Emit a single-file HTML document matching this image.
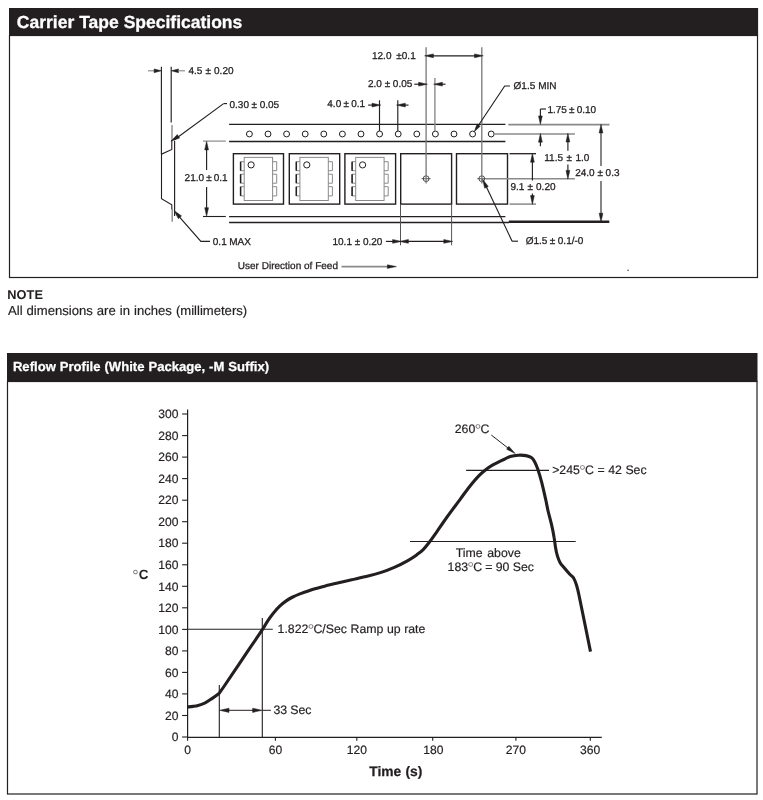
<!DOCTYPE html>
<html lang="en"><head><meta charset="utf-8"><title>Carrier Tape Specifications / Reflow Profile</title>
<style>
html,body{margin:0;padding:0;background:#fff;}
body{width:763px;height:800px;overflow:hidden;}
svg{display:block;will-change:transform;text-rendering:geometricPrecision;font-family:"Liberation Sans",Arial,Helvetica,sans-serif;}
</style></head><body>
<svg width="763" height="800" viewBox="0 0 763 800">
<rect width="763" height="800" fill="#fff"/>
<rect x="9" y="8" width="749.1" height="28" fill="#231f20"/>
<rect x="9.5" y="35.5" width="748" height="242" fill="none" stroke="#231f20" stroke-width="1.2"/>
<text x="16.8" y="28.4" font-size="17.5" font-weight="bold" word-spacing="0.09" fill="#fff" stroke="#fff" stroke-width="0.3">Carrier Tape Specifications</text>
<text x="7.2" y="298.7" font-size="12.8" font-weight="bold" letter-spacing="0.111" fill="#231f20">NOTE</text>
<text x="8" y="315.1" font-size="13.1" word-spacing="0.39" fill="#231f20" stroke="#231f20" stroke-width="0.18">All dimensions are in inches (millimeters)</text>
<rect x="7" y="353" width="750.5" height="29" fill="#231f20"/>
<rect x="7.5" y="381.5" width="749.5" height="412.5" fill="none" stroke="#231f20" stroke-width="1.2"/>
<text x="12.9" y="371" font-size="13.1" font-weight="bold" word-spacing="0.31" fill="#fff" stroke="#fff" stroke-width="0.25">Reflow Profile (White Package, -M Suffix)</text>
<line x1="161.4" y1="66.8" x2="161.4" y2="154.2" stroke="#231f20" stroke-width="1.15"/>
<line x1="171.2" y1="66.8" x2="171.2" y2="122.5" stroke="#231f20" stroke-width="1.15"/>
<line x1="172" y1="125" x2="172" y2="140.5" stroke="#8a8a8a" stroke-width="1.4"/>
<polyline points="171.8,140.2 171.8,149.4 161.5,154.2 161.5,198.8 171.8,204.7 171.8,209.5" fill="none" stroke="#231f20" stroke-width="1.1"/>
<line x1="172.2" y1="208.8" x2="172.2" y2="221.7" stroke="#8a8a8a" stroke-width="1.4"/>
<line x1="174.6" y1="141.1" x2="174.6" y2="216" stroke="#231f20" stroke-width="1.15"/>
<line x1="148" y1="70.8" x2="155" y2="70.8" stroke="#8a8a8a" stroke-width="1.15"/>
<polygon points="161.40,70.80 154.10,72.65 154.10,68.95" fill="#231f20" stroke="#231f20" stroke-width="0.5" stroke-linejoin="miter"/>
<polygon points="171.20,70.80 178.50,68.95 178.50,72.65" fill="#231f20" stroke="#231f20" stroke-width="0.5" stroke-linejoin="miter"/>
<line x1="178" y1="70.8" x2="185" y2="70.8" stroke="#8a8a8a" stroke-width="1.15"/>
<text x="188.5" y="74" font-size="10" word-spacing="0.30" fill="#231f20" stroke="#231f20" stroke-width="0.28">4.5 ± 0.20</text>
<line x1="174" y1="140" x2="223.6" y2="103.6" stroke="#231f20" stroke-width="1.15"/>
<line x1="223.6" y1="103.6" x2="227" y2="103.6" stroke="#231f20" stroke-width="1.15"/>
<polygon points="170.90,141.20 177.30,134.54 179.59,138.06" fill="#231f20" stroke="#231f20" stroke-width="0.5" stroke-linejoin="miter"/>
<text x="229.5" y="107.6" font-size="10" word-spacing="-0.19" fill="#231f20" stroke="#231f20" stroke-width="0.28">0.30 ± 0.05</text>
<polygon points="174.00,210.50 181.52,215.88 178.36,218.65" fill="#231f20" stroke="#231f20" stroke-width="0.5" stroke-linejoin="miter"/>
<polyline points="176.5,213.6 200.9,241.4 210,241.4" fill="none" stroke="#231f20" stroke-width="1.15"/>
<text x="212.8" y="245.4" font-size="10" word-spacing="-0.35" fill="#231f20" stroke="#231f20" stroke-width="0.28">0.1 MAX</text>
<line x1="203" y1="141.1" x2="225.8" y2="141.1" stroke="#8a8a8a" stroke-width="1.2"/>
<line x1="203" y1="216.5" x2="225.8" y2="216.5" stroke="#231f20" stroke-width="1.1"/>
<line x1="206.6" y1="146" x2="206.6" y2="170" stroke="#231f20" stroke-width="1.15"/>
<line x1="206.6" y1="187" x2="206.6" y2="212" stroke="#231f20" stroke-width="1.15"/>
<polygon points="206.60,141.30 208.50,149.90 204.70,149.90" fill="#231f20" stroke="#231f20" stroke-width="0.5" stroke-linejoin="miter"/>
<polygon points="206.60,216.30 204.70,207.70 208.50,207.70" fill="#231f20" stroke="#231f20" stroke-width="0.5" stroke-linejoin="miter"/>
<text x="184.6" y="181" font-size="10" word-spacing="-0.70" fill="#231f20" stroke="#231f20" stroke-width="0.28">21.0 ± 0.1</text>
<line x1="229.1" y1="124.4" x2="505.4" y2="124.4" stroke="#231f20" stroke-width="1.3"/>
<line x1="229.1" y1="141.5" x2="505.4" y2="141.5" stroke="#231f20" stroke-width="1.3"/>
<line x1="229.1" y1="216.7" x2="505.4" y2="216.7" stroke="#231f20" stroke-width="1.3"/>
<line x1="229.1" y1="222.5" x2="509" y2="222.5" stroke="#231f20" stroke-width="1.3"/>
<line x1="508.8" y1="221.8" x2="609.3" y2="221.8" stroke="#231f20" stroke-width="2.4"/>
<circle cx="249.4" cy="134" r="2.95" fill="#fff" stroke="#231f20" stroke-width="1.0"/>
<circle cx="268.0" cy="134" r="2.95" fill="#fff" stroke="#231f20" stroke-width="1.0"/>
<circle cx="286.6" cy="134" r="2.95" fill="#fff" stroke="#231f20" stroke-width="1.0"/>
<circle cx="305.2" cy="134" r="2.95" fill="#fff" stroke="#231f20" stroke-width="1.0"/>
<circle cx="323.8" cy="134" r="2.95" fill="#fff" stroke="#231f20" stroke-width="1.0"/>
<circle cx="342.4" cy="134" r="2.95" fill="#fff" stroke="#231f20" stroke-width="1.0"/>
<circle cx="361.0" cy="134" r="2.95" fill="#fff" stroke="#231f20" stroke-width="1.0"/>
<circle cx="379.6" cy="134" r="2.95" fill="#fff" stroke="#231f20" stroke-width="1.0"/>
<circle cx="398.2" cy="134" r="2.95" fill="#fff" stroke="#231f20" stroke-width="1.0"/>
<circle cx="416.8" cy="134" r="2.95" fill="#fff" stroke="#231f20" stroke-width="1.0"/>
<circle cx="435.4" cy="134" r="2.95" fill="#fff" stroke="#231f20" stroke-width="1.0"/>
<circle cx="454.0" cy="134" r="2.95" fill="#fff" stroke="#231f20" stroke-width="1.0"/>
<circle cx="472.6" cy="134" r="2.95" fill="#fff" stroke="#231f20" stroke-width="1.0"/>
<circle cx="491.2" cy="134" r="2.95" fill="#fff" stroke="#231f20" stroke-width="1.0"/>
<rect x="233.4" y="153.7" width="50.1" height="50.4" fill="none" stroke="#231f20" stroke-width="1.4"/>
<rect x="289.3" y="153.7" width="50.4" height="50.4" fill="none" stroke="#231f20" stroke-width="1.4"/>
<rect x="344.9" y="153.7" width="50.7" height="50.4" fill="none" stroke="#231f20" stroke-width="1.4"/>
<rect x="400.7" y="153.7" width="50.9" height="50.4" fill="none" stroke="#231f20" stroke-width="1.4"/>
<rect x="456.5" y="153.7" width="51.0" height="50.4" fill="none" stroke="#231f20" stroke-width="1.4"/>
<rect x="244.2" y="157.4" width="28.4" height="43.1" fill="none" stroke="#8a8a8a" stroke-width="1"/>
<circle cx="251.1" cy="164.9" r="3.1" fill="none" stroke="#231f20" stroke-width="1"/>
<polyline points="244.2,161.7 240.6,161.7 240.6,170.7 244.2,170.7" fill="none" stroke="#8a8a8a" stroke-width="1"/>
<line x1="240.6" y1="161.7" x2="240.6" y2="170.7" stroke="#231f20" stroke-width="1.5"/>
<polyline points="272.6,161.7 276.7,161.7 276.7,170.7 272.6,170.7" fill="none" stroke="#8a8a8a" stroke-width="1"/>
<polyline points="244.2,174.2 240.6,174.2 240.6,183.2 244.2,183.2" fill="none" stroke="#8a8a8a" stroke-width="1"/>
<line x1="240.6" y1="174.2" x2="240.6" y2="183.2" stroke="#231f20" stroke-width="1.5"/>
<polyline points="272.6,174.2 276.7,174.2 276.7,183.2 272.6,183.2" fill="none" stroke="#8a8a8a" stroke-width="1"/>
<polyline points="244.2,186.7 240.6,186.7 240.6,195.9 244.2,195.9" fill="none" stroke="#8a8a8a" stroke-width="1"/>
<line x1="240.6" y1="186.7" x2="240.6" y2="195.9" stroke="#231f20" stroke-width="1.5"/>
<polyline points="272.6,186.7 276.7,186.7 276.7,195.9 272.6,195.9" fill="none" stroke="#8a8a8a" stroke-width="1"/>
<rect x="299.9" y="157.4" width="28.4" height="43.1" fill="none" stroke="#8a8a8a" stroke-width="1"/>
<circle cx="306.8" cy="164.9" r="3.1" fill="none" stroke="#231f20" stroke-width="1"/>
<polyline points="299.9,161.7 296.3,161.7 296.3,170.7 299.9,170.7" fill="none" stroke="#8a8a8a" stroke-width="1"/>
<line x1="296.3" y1="161.7" x2="296.3" y2="170.7" stroke="#231f20" stroke-width="1.5"/>
<polyline points="328.3,161.7 332.4,161.7 332.4,170.7 328.3,170.7" fill="none" stroke="#8a8a8a" stroke-width="1"/>
<polyline points="299.9,174.2 296.3,174.2 296.3,183.2 299.9,183.2" fill="none" stroke="#8a8a8a" stroke-width="1"/>
<line x1="296.3" y1="174.2" x2="296.3" y2="183.2" stroke="#231f20" stroke-width="1.5"/>
<polyline points="328.3,174.2 332.4,174.2 332.4,183.2 328.3,183.2" fill="none" stroke="#8a8a8a" stroke-width="1"/>
<polyline points="299.9,186.7 296.3,186.7 296.3,195.9 299.9,195.9" fill="none" stroke="#8a8a8a" stroke-width="1"/>
<line x1="296.3" y1="186.7" x2="296.3" y2="195.9" stroke="#231f20" stroke-width="1.5"/>
<polyline points="328.3,186.7 332.4,186.7 332.4,195.9 328.3,195.9" fill="none" stroke="#8a8a8a" stroke-width="1"/>
<rect x="355.7" y="157.4" width="28.4" height="43.1" fill="none" stroke="#8a8a8a" stroke-width="1"/>
<circle cx="362.6" cy="164.9" r="3.1" fill="none" stroke="#231f20" stroke-width="1"/>
<polyline points="355.7,161.7 352.1,161.7 352.1,170.7 355.7,170.7" fill="none" stroke="#8a8a8a" stroke-width="1"/>
<line x1="352.1" y1="161.7" x2="352.1" y2="170.7" stroke="#231f20" stroke-width="1.5"/>
<polyline points="384.1,161.7 388.2,161.7 388.2,170.7 384.1,170.7" fill="none" stroke="#8a8a8a" stroke-width="1"/>
<polyline points="355.7,174.2 352.1,174.2 352.1,183.2 355.7,183.2" fill="none" stroke="#8a8a8a" stroke-width="1"/>
<line x1="352.1" y1="174.2" x2="352.1" y2="183.2" stroke="#231f20" stroke-width="1.5"/>
<polyline points="384.1,174.2 388.2,174.2 388.2,183.2 384.1,183.2" fill="none" stroke="#8a8a8a" stroke-width="1"/>
<polyline points="355.7,186.7 352.1,186.7 352.1,195.9 355.7,195.9" fill="none" stroke="#8a8a8a" stroke-width="1"/>
<line x1="352.1" y1="186.7" x2="352.1" y2="195.9" stroke="#231f20" stroke-width="1.5"/>
<polyline points="384.1,186.7 388.2,186.7 388.2,195.9 384.1,195.9" fill="none" stroke="#8a8a8a" stroke-width="1"/>
<circle cx="426.1" cy="178.7" r="2.9" fill="none" stroke="#231f20" stroke-width="0.8"/>
<line x1="421.6" y1="178.7" x2="430.6" y2="178.7" stroke="#231f20" stroke-width="0.7"/>
<line x1="426.1" y1="47.2" x2="426.1" y2="183.5" stroke="#777" stroke-width="1.3"/>
<circle cx="481.8" cy="178.7" r="2.9" fill="none" stroke="#231f20" stroke-width="0.8"/>
<line x1="477.3" y1="178.7" x2="486.3" y2="178.7" stroke="#231f20" stroke-width="0.7"/>
<line x1="481.8" y1="47.2" x2="481.8" y2="183.5" stroke="#777" stroke-width="1.3"/>
<line x1="432" y1="55.8" x2="476" y2="55.8" stroke="#231f20" stroke-width="1.15"/>
<polygon points="424.60,55.80 433.40,53.90 433.40,57.70" fill="#231f20" stroke="#231f20" stroke-width="0.5" stroke-linejoin="miter"/>
<polygon points="483.30,55.80 474.50,57.70 474.50,53.90" fill="#231f20" stroke="#231f20" stroke-width="0.5" stroke-linejoin="miter"/>
<text x="372.0" y="59" font-size="10" word-spacing="2.07" fill="#231f20" stroke="#231f20" stroke-width="0.28">12.0 ±0.1</text>
<line x1="414.3" y1="84.2" x2="420" y2="84.2" stroke="#231f20" stroke-width="1.15"/>
<polygon points="427.40,84.20 418.60,86.10 418.60,82.30" fill="#231f20" stroke="#231f20" stroke-width="0.5" stroke-linejoin="miter"/>
<line x1="434.9" y1="78" x2="434.9" y2="131" stroke="#8a8a8a" stroke-width="1.4"/>
<polygon points="433.60,84.20 442.40,82.30 442.40,86.10" fill="#231f20" stroke="#231f20" stroke-width="0.5" stroke-linejoin="miter"/>
<line x1="441" y1="84.2" x2="445.5" y2="84.2" stroke="#231f20" stroke-width="1.15"/>
<text x="368" y="87" font-size="10" word-spacing="-0.05" fill="#231f20" stroke="#231f20" stroke-width="0.28">2.0 ± 0.05</text>
<line x1="368.1" y1="105.1" x2="373" y2="105.1" stroke="#231f20" stroke-width="1.15"/>
<polygon points="380.80,105.10 372.00,107.00 372.00,103.20" fill="#231f20" stroke="#231f20" stroke-width="0.5" stroke-linejoin="miter"/>
<line x1="379.5" y1="100.3" x2="379.5" y2="131" stroke="#231f20" stroke-width="1.15"/>
<line x1="397.8" y1="100.3" x2="397.8" y2="131" stroke="#231f20" stroke-width="1.15"/>
<polygon points="396.50,105.10 405.30,103.20 405.30,107.00" fill="#231f20" stroke="#231f20" stroke-width="0.5" stroke-linejoin="miter"/>
<line x1="404" y1="105.1" x2="408.5" y2="105.1" stroke="#231f20" stroke-width="1.15"/>
<text x="327.3" y="107" font-size="10" word-spacing="-0.52" fill="#231f20" stroke="#231f20" stroke-width="0.28">4.0 ± 0.1</text>
<polyline points="476.5,128.3 504.7,86 510,86" fill="none" stroke="#231f20" stroke-width="1.15"/>
<polygon points="474.20,131.80 477.06,124.09 480.22,126.20" fill="#231f20" stroke="#231f20" stroke-width="0.5" stroke-linejoin="miter"/>
<text x="513.6" y="89" font-size="10" word-spacing="0.21" fill="#231f20" stroke="#231f20" stroke-width="0.28">Ø1.5 MIN</text>
<line x1="494.5" y1="134" x2="574.9" y2="134" stroke="#8a8a8a" stroke-width="1.6"/>
<line x1="508.3" y1="124.6" x2="609.5" y2="124.6" stroke="#8a8a8a" stroke-width="1.6"/>
<line x1="486" y1="178.7" x2="574.9" y2="178.7" stroke="#8a8a8a" stroke-width="1.5"/>
<line x1="509.5" y1="153.7" x2="536" y2="153.7" stroke="#231f20" stroke-width="1.3"/>
<line x1="509.5" y1="204.1" x2="536" y2="204.1" stroke="#8a8a8a" stroke-width="1.5"/>
<line x1="540.4" y1="109" x2="540.4" y2="118" stroke="#231f20" stroke-width="1.15"/>
<line x1="540.4" y1="109" x2="546" y2="109" stroke="#231f20" stroke-width="1.15"/>
<polygon points="540.40,124.40 538.50,115.90 542.30,115.90" fill="#231f20" stroke="#231f20" stroke-width="0.5" stroke-linejoin="miter"/>
<polygon points="540.40,133.40 542.30,142.20 538.50,142.20" fill="#231f20" stroke="#231f20" stroke-width="0.5" stroke-linejoin="miter"/>
<line x1="540.4" y1="140" x2="540.4" y2="146.2" stroke="#231f20" stroke-width="1.15"/>
<text x="547.4" y="113.1" font-size="10" word-spacing="-0.59" fill="#231f20" stroke="#231f20" stroke-width="0.28">1.75 ± 0.10</text>
<line x1="567.9" y1="139" x2="567.9" y2="150.7" stroke="#231f20" stroke-width="1.15"/>
<line x1="567.9" y1="164.5" x2="567.9" y2="173" stroke="#231f20" stroke-width="1.15"/>
<polygon points="567.90,133.20 569.80,142.00 566.00,142.00" fill="#231f20" stroke="#231f20" stroke-width="0.5" stroke-linejoin="miter"/>
<polygon points="567.90,179.20 566.00,170.40 569.80,170.40" fill="#231f20" stroke="#231f20" stroke-width="0.5" stroke-linejoin="miter"/>
<text x="544.3" y="160.9" font-size="10" word-spacing="0.67" fill="#231f20" stroke="#231f20" stroke-width="0.28">11.5 ± 1.0</text>
<line x1="532.4" y1="159" x2="532.4" y2="180.5" stroke="#231f20" stroke-width="1.15"/>
<line x1="532.4" y1="193.5" x2="532.4" y2="198" stroke="#231f20" stroke-width="1.15"/>
<polygon points="532.40,153.40 534.30,162.20 530.50,162.20" fill="#231f20" stroke="#231f20" stroke-width="0.5" stroke-linejoin="miter"/>
<polygon points="532.40,204.40 530.50,195.60 534.30,195.60" fill="#231f20" stroke="#231f20" stroke-width="0.5" stroke-linejoin="miter"/>
<text x="510.5" y="189.9" font-size="10" word-spacing="0.30" fill="#231f20" stroke="#231f20" stroke-width="0.28">9.1 ± 0.20</text>
<line x1="601" y1="130" x2="601" y2="166" stroke="#444" stroke-width="1.3"/>
<line x1="601" y1="181" x2="601" y2="216" stroke="#444" stroke-width="1.3"/>
<polygon points="601.00,124.20 602.90,133.00 599.10,133.00" fill="#231f20" stroke="#231f20" stroke-width="0.5" stroke-linejoin="miter"/>
<polygon points="601.00,222.00 599.10,213.20 602.90,213.20" fill="#231f20" stroke="#231f20" stroke-width="0.5" stroke-linejoin="miter"/>
<text x="575.2" y="176.3" font-size="10" word-spacing="-0.05" fill="#231f20" stroke="#231f20" stroke-width="0.28">24.0 ± 0.3</text>
<line x1="485.5" y1="185" x2="512.1" y2="241.2" stroke="#231f20" stroke-width="1.15"/>
<line x1="512.1" y1="241.2" x2="518" y2="241.2" stroke="#231f20" stroke-width="1.15"/>
<polygon points="482.60,179.20 488.28,186.46 484.67,188.18" fill="#231f20" stroke="#231f20" stroke-width="0.5" stroke-linejoin="miter"/>
<text x="525.7" y="243.6" font-size="10" word-spacing="-0.30" fill="#231f20" stroke="#231f20" stroke-width="0.28">Ø1.5 ± 0.1/-0</text>
<line x1="400.5" y1="204" x2="400.5" y2="245.3" stroke="#555" stroke-width="1"/>
<line x1="451.6" y1="204" x2="451.6" y2="245.3" stroke="#555" stroke-width="1"/>
<line x1="406" y1="241.4" x2="446" y2="241.4" stroke="#231f20" stroke-width="1.15"/>
<polygon points="399.60,241.40 408.40,239.50 408.40,243.30" fill="#231f20" stroke="#231f20" stroke-width="0.5" stroke-linejoin="miter"/>
<polygon points="452.60,241.40 443.80,243.30 443.80,239.50" fill="#231f20" stroke="#231f20" stroke-width="0.5" stroke-linejoin="miter"/>
<line x1="385.9" y1="241.4" x2="394" y2="241.4" stroke="#231f20" stroke-width="1.15"/>
<polygon points="401.40,241.40 392.60,243.30 392.60,239.50" fill="#231f20" stroke="#231f20" stroke-width="0.5" stroke-linejoin="miter"/>
<text x="332.5" y="245" font-size="10" word-spacing="-0.04" fill="#231f20" stroke="#231f20" stroke-width="0.28">10.1 ± 0.20</text>
<text x="237.8" y="268.5" font-size="10" word-spacing="0.05" fill="#231f20" stroke="#231f20" stroke-width="0.28">User Direction of Feed</text>
<line x1="341.5" y1="266.6" x2="390" y2="266.6" stroke="#8a8a8a" stroke-width="1.6"/>
<polygon points="396.40,266.60 387.40,268.40 387.40,264.80" fill="#231f20" stroke="#231f20" stroke-width="0.5" stroke-linejoin="miter"/>
<rect x="627.5" y="269.7" width="1.2" height="1.2" fill="#231f20"/>
<line x1="187.6" y1="409.4" x2="187.6" y2="737.5" stroke="#231f20" stroke-width="1.2"/>
<line x1="187" y1="737.4" x2="601.8" y2="737.4" stroke="#231f20" stroke-width="1.2"/>
<line x1="182.1" y1="737" x2="187.6" y2="737" stroke="#231f20" stroke-width="1.1"/>
<text x="178.4" y="741.2" font-size="12.1" text-anchor="end" fill="#231f20" stroke="#231f20" stroke-width="0.18">0</text>
<line x1="182.1" y1="715.5" x2="187.6" y2="715.5" stroke="#231f20" stroke-width="1.1"/>
<text x="178.4" y="719.7" font-size="12.1" text-anchor="end" fill="#231f20" stroke="#231f20" stroke-width="0.18">20</text>
<line x1="182.1" y1="693.9" x2="187.6" y2="693.9" stroke="#231f20" stroke-width="1.1"/>
<text x="178.4" y="698.1" font-size="12.1" text-anchor="end" fill="#231f20" stroke="#231f20" stroke-width="0.18">40</text>
<line x1="182.1" y1="672.4" x2="187.6" y2="672.4" stroke="#231f20" stroke-width="1.1"/>
<text x="178.4" y="676.6" font-size="12.1" text-anchor="end" fill="#231f20" stroke="#231f20" stroke-width="0.18">60</text>
<line x1="182.1" y1="650.9" x2="187.6" y2="650.9" stroke="#231f20" stroke-width="1.1"/>
<text x="178.4" y="655.1" font-size="12.1" text-anchor="end" fill="#231f20" stroke="#231f20" stroke-width="0.18">80</text>
<line x1="182.1" y1="629.4" x2="187.6" y2="629.4" stroke="#231f20" stroke-width="1.1"/>
<text x="178.4" y="633.6" font-size="12.1" text-anchor="end" fill="#231f20" stroke="#231f20" stroke-width="0.18">100</text>
<line x1="182.1" y1="607.8" x2="187.6" y2="607.8" stroke="#231f20" stroke-width="1.1"/>
<text x="178.4" y="612.0" font-size="12.1" text-anchor="end" fill="#231f20" stroke="#231f20" stroke-width="0.18">120</text>
<line x1="182.1" y1="586.3" x2="187.6" y2="586.3" stroke="#231f20" stroke-width="1.1"/>
<text x="178.4" y="590.5" font-size="12.1" text-anchor="end" fill="#231f20" stroke="#231f20" stroke-width="0.18">140</text>
<line x1="182.1" y1="564.8" x2="187.6" y2="564.8" stroke="#231f20" stroke-width="1.1"/>
<text x="178.4" y="569.0" font-size="12.1" text-anchor="end" fill="#231f20" stroke="#231f20" stroke-width="0.18">160</text>
<line x1="182.1" y1="543.2" x2="187.6" y2="543.2" stroke="#231f20" stroke-width="1.1"/>
<text x="178.4" y="547.4" font-size="12.1" text-anchor="end" fill="#231f20" stroke="#231f20" stroke-width="0.18">180</text>
<line x1="182.1" y1="521.7" x2="187.6" y2="521.7" stroke="#231f20" stroke-width="1.1"/>
<text x="178.4" y="525.9" font-size="12.1" text-anchor="end" fill="#231f20" stroke="#231f20" stroke-width="0.18">200</text>
<line x1="182.1" y1="500.2" x2="187.6" y2="500.2" stroke="#231f20" stroke-width="1.1"/>
<text x="178.4" y="504.4" font-size="12.1" text-anchor="end" fill="#231f20" stroke="#231f20" stroke-width="0.18">220</text>
<line x1="182.1" y1="478.6" x2="187.6" y2="478.6" stroke="#231f20" stroke-width="1.1"/>
<text x="178.4" y="482.8" font-size="12.1" text-anchor="end" fill="#231f20" stroke="#231f20" stroke-width="0.18">240</text>
<line x1="182.1" y1="457.1" x2="187.6" y2="457.1" stroke="#231f20" stroke-width="1.1"/>
<text x="178.4" y="461.3" font-size="12.1" text-anchor="end" fill="#231f20" stroke="#231f20" stroke-width="0.18">260</text>
<line x1="182.1" y1="435.6" x2="187.6" y2="435.6" stroke="#231f20" stroke-width="1.1"/>
<text x="178.4" y="439.8" font-size="12.1" text-anchor="end" fill="#231f20" stroke="#231f20" stroke-width="0.18">280</text>
<line x1="182.1" y1="414.0" x2="187.6" y2="414.0" stroke="#231f20" stroke-width="1.1"/>
<text x="178.4" y="418.2" font-size="12.1" text-anchor="end" fill="#231f20" stroke="#231f20" stroke-width="0.18">300</text>
<line x1="187.6" y1="737" x2="187.6" y2="740.8" stroke="#231f20" stroke-width="1.1"/>
<text x="187.6" y="753.8" font-size="12.1" text-anchor="middle" fill="#231f20" stroke="#231f20" stroke-width="0.18">0</text>
<line x1="275.4" y1="737" x2="275.4" y2="740.8" stroke="#231f20" stroke-width="1.1"/>
<text x="275.4" y="753.8" font-size="12.1" text-anchor="middle" fill="#231f20" stroke="#231f20" stroke-width="0.18">60</text>
<line x1="356.8" y1="737" x2="356.8" y2="740.8" stroke="#231f20" stroke-width="1.1"/>
<text x="356.8" y="753.8" font-size="12.1" text-anchor="middle" fill="#231f20" stroke="#231f20" stroke-width="0.18">120</text>
<line x1="432.7" y1="737" x2="432.7" y2="740.8" stroke="#231f20" stroke-width="1.1"/>
<text x="433.4" y="753.8" font-size="12.1" text-anchor="middle" fill="#231f20" stroke="#231f20" stroke-width="0.18">180</text>
<line x1="515.9" y1="737" x2="515.9" y2="740.8" stroke="#231f20" stroke-width="1.1"/>
<text x="515.8" y="753.8" font-size="12.1" text-anchor="middle" fill="#231f20" stroke="#231f20" stroke-width="0.18">270</text>
<line x1="590.3" y1="737" x2="590.3" y2="740.8" stroke="#231f20" stroke-width="1.1"/>
<text x="590.2" y="753.8" font-size="12.1" text-anchor="middle" fill="#231f20" stroke="#231f20" stroke-width="0.18">360</text>
<text x="132.3" y="579.3" font-size="13.4" fill="#231f20"><tspan font-size="16" dy="2" stroke="#fff" stroke-width="0.25">°</tspan><tspan font-weight="bold" dy="-2">C</tspan></text>
<text x="369.3" y="775.7" font-size="13.8" font-weight="bold" word-spacing="0.34" fill="#231f20" stroke="#231f20" stroke-width="0.25">Time (s)</text>
<line x1="187.6" y1="629.3" x2="272.8" y2="629.3" stroke="#231f20" stroke-width="1.1"/>
<line x1="262.3" y1="618" x2="262.3" y2="737" stroke="#231f20" stroke-width="1.1"/>
<line x1="219.3" y1="684.9" x2="219.3" y2="737" stroke="#231f20" stroke-width="1.1"/>
<line x1="226" y1="710.3" x2="256" y2="710.3" stroke="#231f20" stroke-width="1"/>
<polygon points="219.50,710.30 229.00,708.20 229.00,712.40" fill="#231f20" stroke="#231f20" stroke-width="0.5" stroke-linejoin="miter"/>
<polygon points="262.10,710.30 252.60,712.40 252.60,708.20" fill="#231f20" stroke="#231f20" stroke-width="0.5" stroke-linejoin="miter"/>
<line x1="262.3" y1="710.3" x2="270.9" y2="710.3" stroke="#231f20" stroke-width="1"/>
<text x="273.5" y="713.8" font-size="12.3" word-spacing="-0.29" fill="#231f20" stroke="#231f20" stroke-width="0.18">33 Sec</text>
<text x="277.6" y="632.6" font-size="12.3" word-spacing="0.17" fill="#231f20" stroke="#231f20" stroke-width="0.18">1.822<tspan font-size="17.2" dy="3.2" dx="-0.9" stroke="#fff" stroke-width="0.28">°</tspan><tspan dy="-3.2" dx="-0.9">C/Sec Ramp up rate</tspan></text>
<line x1="410" y1="541.5" x2="575.7" y2="541.5" stroke="#231f20" stroke-width="1.15"/>
<line x1="466.1" y1="470.4" x2="549" y2="470.4" stroke="#231f20" stroke-width="1.15"/>
<text x="552.2" y="473.8" font-size="12.3" word-spacing="0.14" fill="#231f20" stroke="#231f20" stroke-width="0.18">&gt;245<tspan font-size="17.2" dy="3.2" dx="-0.9" stroke="#fff" stroke-width="0.28">°</tspan><tspan dy="-3.2" dx="-0.9">C = 42 Sec</tspan></text>
<text x="454.7" y="433" font-size="12.3" letter-spacing="0.023" fill="#231f20" stroke="#231f20" stroke-width="0.18">260<tspan font-size="17.2" dy="3.2" dx="-0.9" stroke="#fff" stroke-width="0.28">°</tspan><tspan dy="-3.2" dx="-0.9">C</tspan></text>
<line x1="491.3" y1="435" x2="510" y2="449.6" stroke="#231f20" stroke-width="1"/>
<polygon points="515.20,453.60 506.61,449.17 508.82,446.33" fill="#231f20" stroke="#231f20" stroke-width="0.5" stroke-linejoin="miter"/>
<text x="455.8" y="556.8" font-size="12.3" word-spacing="1.19" fill="#231f20" stroke="#231f20" stroke-width="0.18">Time above</text>
<text x="447.6" y="570.5" font-size="12.3" word-spacing="-0.17" fill="#231f20" stroke="#231f20" stroke-width="0.18">183<tspan font-size="17.2" dy="3.2" dx="-0.9" stroke="#fff" stroke-width="0.28">°</tspan><tspan dy="-3.2" dx="-0.9">C = 90 Sec</tspan></text>
<path d="M187.6,707.0 C188.5,706.9 191.2,706.7 193,706.4 C194.8,706.1 196.2,705.9 198.1,705.4 C200.0,704.9 202.5,704.1 204.7,703.1 C206.9,702.1 208.8,700.8 211.2,699.1 C213.6,697.5 218.0,694.2 219.3,693.2 C220.1,692.0 221.3,690.4 224.3,686 C227.3,681.6 233.0,673.1 237.4,666.6 C241.8,660.1 246.3,653.2 250.5,647.1 C254.7,641.0 259.5,634.1 262.4,629.7 C265.3,625.3 266.1,623.3 267.9,620.6 C269.7,617.9 271.1,615.8 273.1,613.4 C275.1,611.0 277.5,608.3 279.7,606.2 C281.9,604.1 284.0,602.4 286.2,600.9 C288.4,599.4 290.6,598.1 292.8,597 C295.0,595.9 296.0,595.4 299.3,594.1 C302.6,592.9 308.0,590.9 312.4,589.5 C316.8,588.1 321.1,587.0 325.5,585.9 C329.9,584.8 334.2,583.7 338.6,582.7 C343.0,581.7 346.8,580.9 351.7,579.8 C356.6,578.7 363.2,577.3 368.1,576.1 C373.0,574.9 376.8,573.9 381.2,572.4 C385.6,570.9 389.9,569.2 394.3,567.3 C398.7,565.4 403.7,562.9 407.4,560.8 C411.1,558.7 414.0,556.8 416.6,554.9 C419.2,553.0 421.0,551.8 423.2,549.6 C425.4,547.4 427.5,544.6 429.7,541.8 C431.9,539.0 433.5,536.6 436.3,532.6 C439.1,528.6 442.7,523.1 446.7,517.5 C450.7,511.9 456.7,504.0 460.5,498.8 C464.3,493.6 466.6,490.2 469.7,486.4 C472.8,482.6 476.2,478.6 478.8,475.9 C481.4,473.2 483.0,471.9 485.4,470 C487.8,468.1 490.5,466.3 493.3,464.7 C496.1,463.1 499.6,461.5 502.4,460.1 C505.2,458.8 507.7,457.4 510.3,456.6 C512.9,455.8 515.6,455.4 518.2,455.2 C520.8,455.0 523.8,455.2 526,455.6 C528.2,456.0 529.9,456.5 531.3,457.5 C532.7,458.5 533.4,459.5 534.5,461.5 C535.6,463.5 536.6,465.8 537.8,469.3 C539.0,472.8 540.4,477.4 541.7,482.4 C543.0,487.4 544.6,494.6 545.7,499.5 C546.8,504.4 547.2,507.4 548.2,511.5 C549.2,515.6 550.5,520.1 551.5,524.4 C552.5,528.7 553.5,533.8 554.1,537.5 C554.8,541.2 554.9,543.6 555.4,546.7 C555.9,549.8 556.6,553.3 557.4,555.9 C558.2,558.5 558.8,560.3 560,562.4 C561.2,564.5 563.0,566.3 564.6,568.3 C566.2,570.3 568.3,572.6 569.8,574.2 C571.3,575.9 572.6,576.5 573.7,578.2 C574.8,580.0 575.5,581.9 576.4,584.7 C577.3,587.5 577.9,590.0 579,595.2 C580.1,600.5 581.4,606.8 583.3,616.2 C585.2,625.6 589.3,645.7 590.5,651.6" fill="none" stroke="#231f20" stroke-width="3.1" stroke-linejoin="round"/>
</svg>
</body></html>
